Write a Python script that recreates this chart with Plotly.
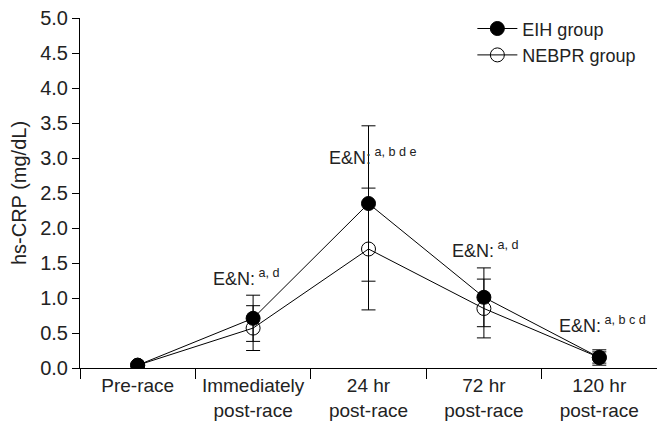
import plotly.graph_objects as go

# hs-CRP over race time points
time_points = ['Pre-race', 'Immediately<br>post-race', '24 hr<br>post-race', '72 hr<br>post-race', '120 hr<br>post-race']
eih_mean = [0.04, 0.71, 2.35, 1.01, 0.15]
eih_sd = [0.02, 0.33, 1.11, 0.42, 0.11]
nebpr_mean = [0.04, 0.57, 1.70, 0.85, 0.15]
nebpr_sd = [0.02, 0.32, 0.87, 0.42, 0.08]
sig_labels = ['a, d', 'a, b d e', 'a, d', 'a, b c d']
sig_x = [1, 2, 3, 4]
sig_y = [1.30, 3.02, 1.70, 0.62]
sig_shift = [-42, -42, -34, -42]

FONT = 'Liberation Sans, Arial, sans-serif'

fig = go.Figure()
fig.add_trace(go.Scatter(
    x=time_points, y=eih_mean, name='EIH group', mode='lines+markers',
    line=dict(color='black', width=1),
    marker=dict(symbol='circle', size=14, color='black', line=dict(color='black', width=1)),
    error_y=dict(type='data', array=eih_sd, color='black', thickness=1, width=7),
))
fig.add_trace(go.Scatter(
    x=time_points, y=nebpr_mean, name='NEBPR group', mode='lines+markers',
    line=dict(color='black', width=1),
    marker=dict(symbol='circle-open', size=14, color='black', line=dict(color='black', width=1)),
    error_y=dict(type='data', array=nebpr_sd, color='black', thickness=1, width=7),
))

for xi, yi, lab, sh in zip(sig_x, sig_y, sig_labels, sig_shift):
    fig.add_annotation(x=time_points[xi], y=yi, text='E&amp;N:<sup> ' + lab + '</sup>',
                       showarrow=False, xanchor='left', yanchor='middle', xshift=sh,
                       font=dict(family=FONT, size=18, color='#222'))

# page body adds an 8px margin, so the figure is 8px smaller than the window
fig.update_layout(
    width=657, height=425,
    margin=dict(l=72, r=8, t=10, b=65, autoexpand=False),
    plot_bgcolor='white', paper_bgcolor='white',
    font=dict(family=FONT, size=20, color='#222'),
    showlegend=True,
    legend=dict(x=0.68, y=1.022, xanchor='left', yanchor='top', bgcolor='rgba(0,0,0,0)',
                font=dict(size=18), tracegroupgap=0, itemwidth=40),
)
fig.update_xaxes(
    type='category', range=[-0.5, 4.5], tickson='boundaries', automargin=False,
    showline=True, linecolor='black', linewidth=1, tickangle=0,
    ticks='outside', ticklen=10, tickcolor='black', showgrid=False,
    tickfont=dict(size=19),
)
fig.update_yaxes(
    range=[0, 5.0], tickvals=[0, 0.5, 1, 1.5, 2, 2.5, 3, 3.5, 4, 4.5, 5],
    tickformat='.1f', showline=True, linecolor='black', linewidth=1, automargin=False,
    ticks='outside', ticklen=7, tickcolor='black', showgrid=False, zeroline=False,
    ticklabeloverflow='allow',
    title=dict(text='hs-CRP (mg/dL)', font=dict(size=20), standoff=8),
    tickfont=dict(size=20),
)

fig.write_html('out.html')
